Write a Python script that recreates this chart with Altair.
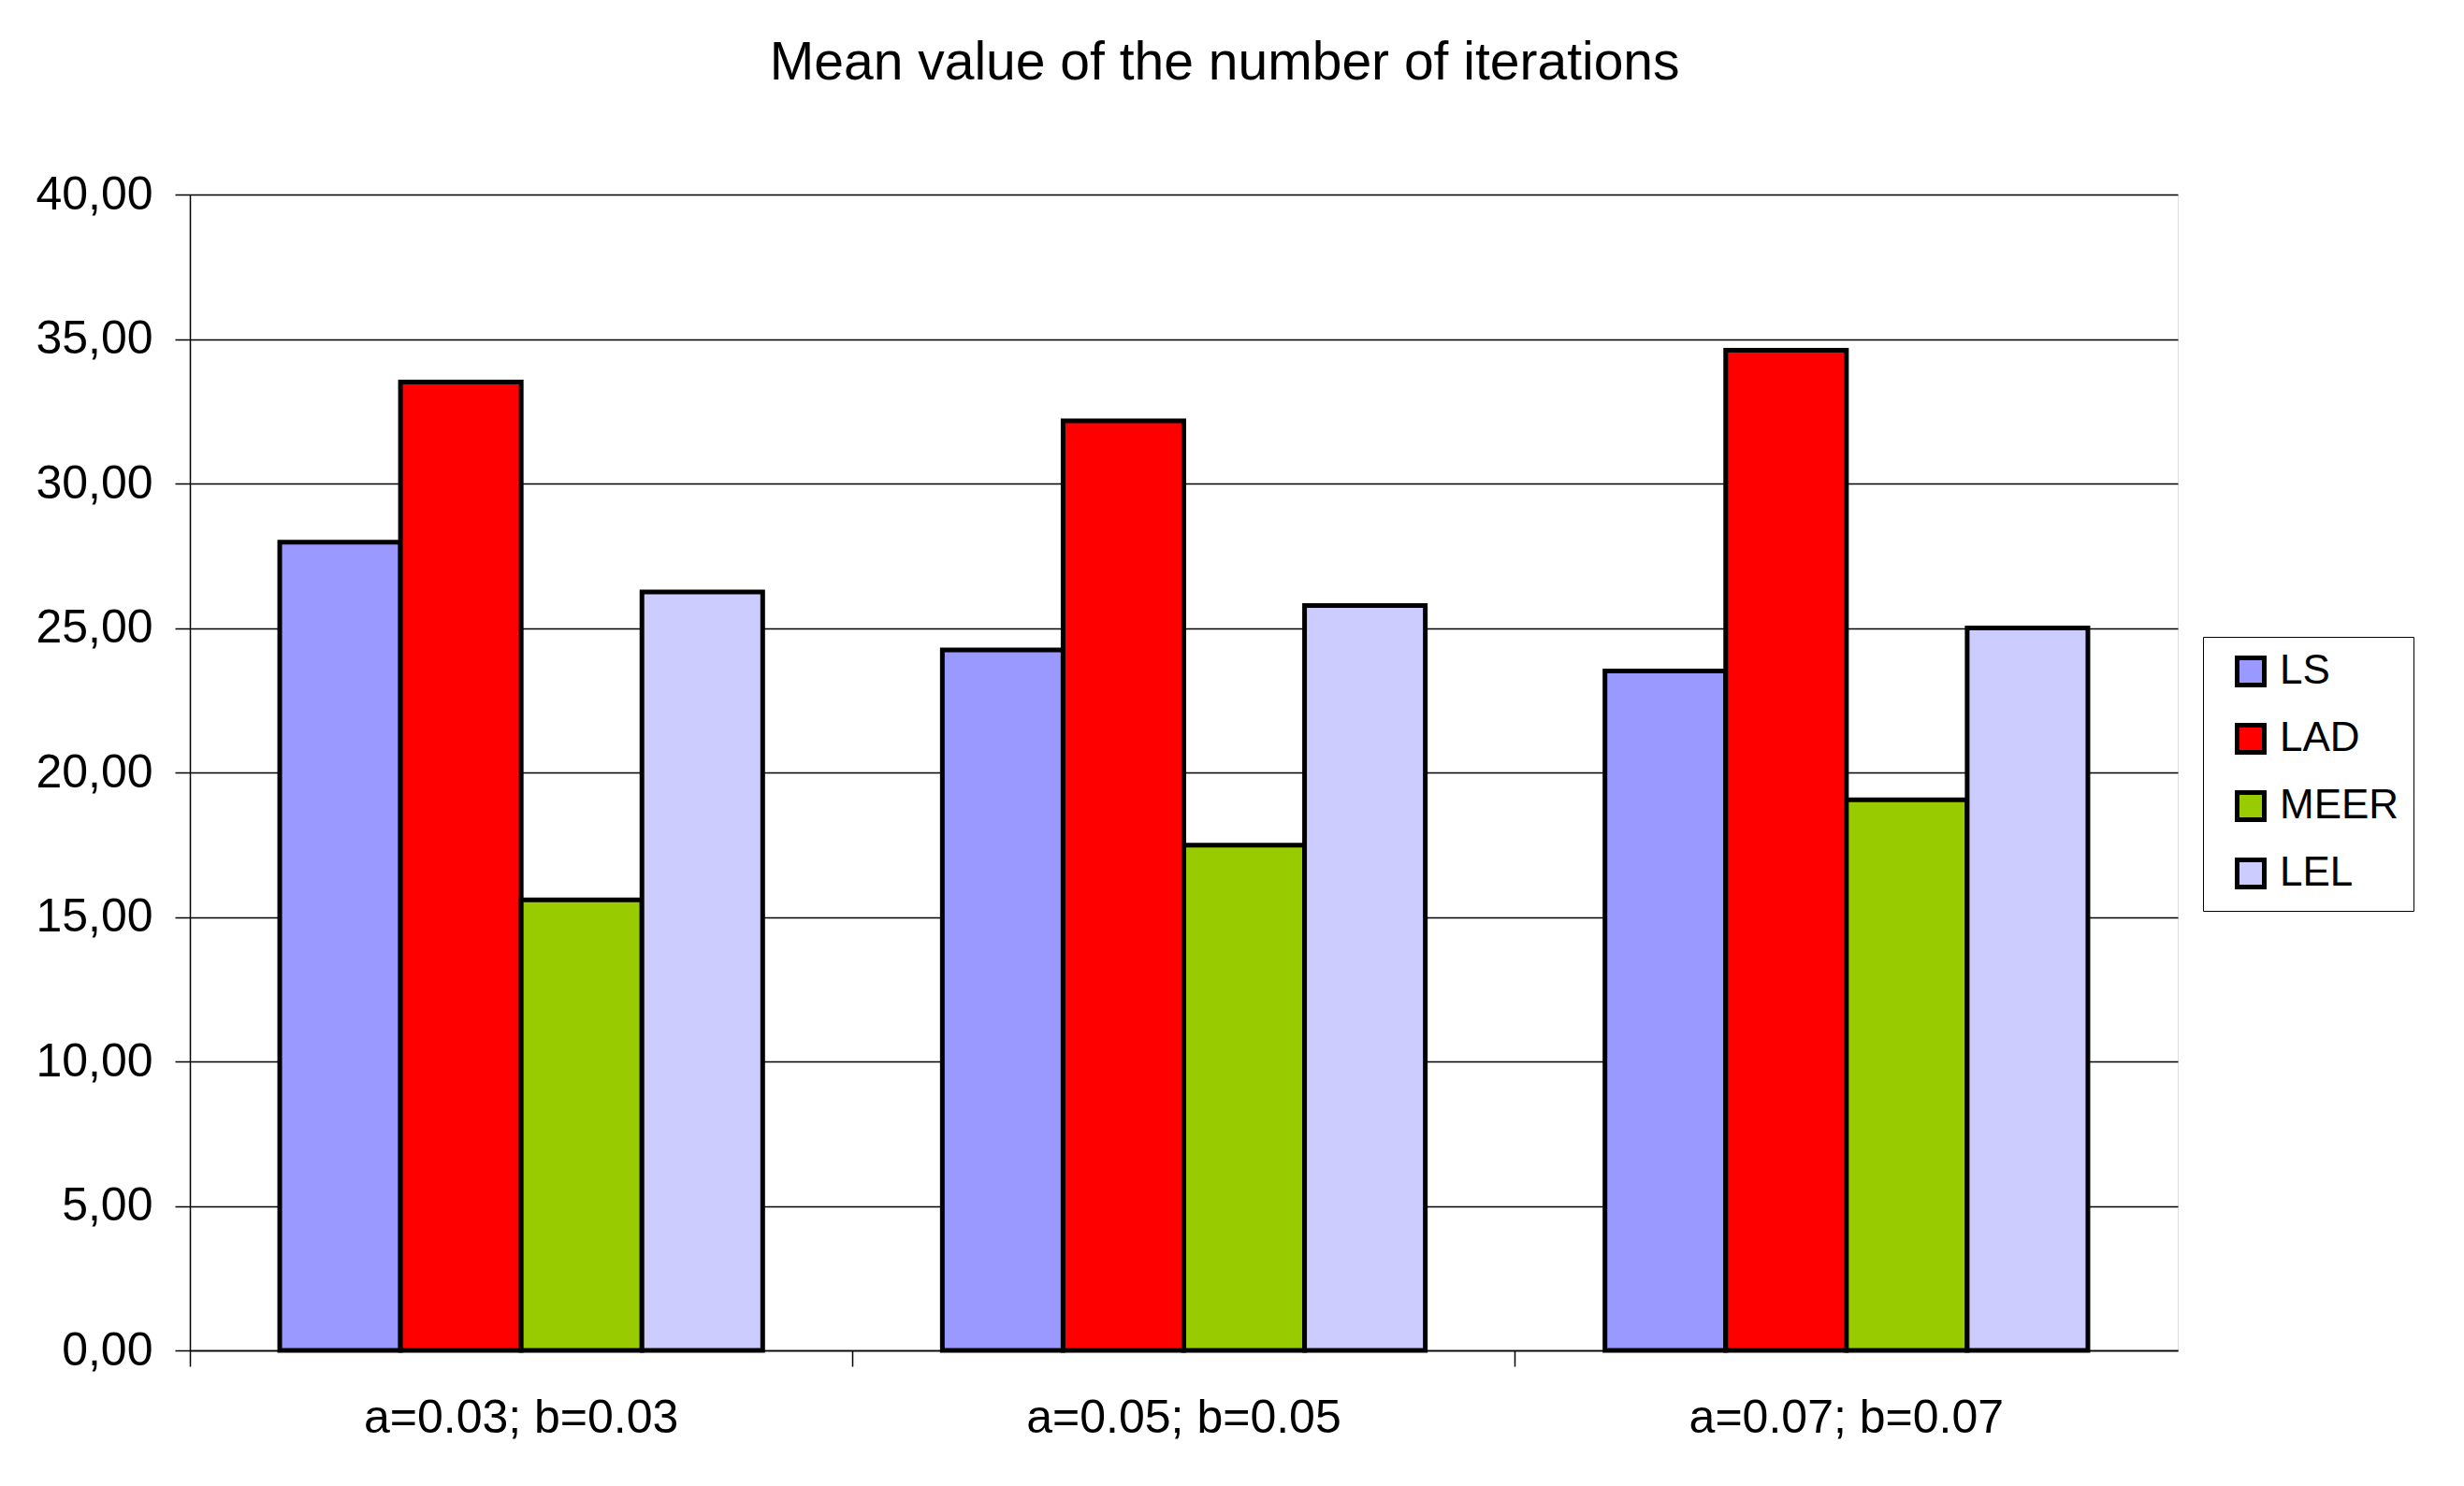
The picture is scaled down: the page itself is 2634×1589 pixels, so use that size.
import altair as alt
import pandas as pd

groups = ["a=0.03; b=0.03", "a=0.05; b=0.05", "a=0.07; b=0.07"]
series = ["LS", "LAD", "MEER", "LEL"]
ls_vals = [27.97, 24.24, 23.51]
lad_vals = [33.51, 32.17, 34.61]
meer_vals = [15.59, 17.48, 19.05]
lel_vals = [26.25, 25.78, 25.00]
colors = ["#9999FF", "#FF0000", "#99CC00", "#CCCCFF"]
y_ticks = [0, 5, 10, 15, 20, 25, 30, 35, 40]

rows = []
for s, vals in zip(series, [ls_vals, lad_vals, meer_vals, lel_vals]):
    for g, v in zip(groups, vals):
        rows.append({"group": g, "series": s, "value": v})
df = pd.DataFrame(rows)

FONT = "Liberation Sans"

chart = alt.Chart(df).mark_bar(stroke="black", strokeWidth=5).encode(
    x=alt.X(
        "group:N",
        sort=groups,
        title=None,
        scale=alt.Scale(paddingInner=0, paddingOuter=0),
        axis=alt.Axis(
            labelAngle=0,
            labelFont=FONT,
            labelFontSize=50,
            labelColor="black",
            labelPadding=30,
            labelLimit=1000,
            tickSize=17,
            tickColor="black",
            tickWidth=1.5,
            domainColor="black",
            domainWidth=1.5,
            bandPosition=0,
            grid=False,
        ),
    ),
    xOffset=alt.XOffset(
        "series:N", sort=series, scale=alt.Scale(paddingInner=0, paddingOuter=0.744)
    ),
    y=alt.Y(
        "value:Q",
        title=None,
        scale=alt.Scale(domain=[0, 40], nice=False),
        axis=alt.Axis(
            values=y_ticks,
            labelExpr="replace(format(datum.value, '.2f'), '.', ',')",
            labelFont=FONT,
            labelFontSize=50,
            labelColor="black",
            labelPadding=24,
            tickSize=16,
            tickColor="black",
            tickWidth=1.5,
            domainColor="black",
            domainWidth=1.5,
            grid=True,
            gridColor="black",
            gridWidth=1.5,
            gridOpacity=1,
        ),
    ),
    color=alt.Color(
        "series:N",
        sort=series,
        scale=alt.Scale(domain=series, range=colors),
        legend=alt.Legend(
            title=None,
            orient="none",
            legendX=2152,
            legendY=473,
            direction="vertical",
            strokeColor="black",
            fillColor="white",
            padding=15,
            symbolOffset=14,
            symbolType="square",
            symbolSize=841,
            symbolStrokeColor="black",
            symbolStrokeWidth=5,
            symbolOpacity=1,
            labelFont=FONT,
            labelFontSize=44,
            labelColor="black",
            labelOffset=9,
            labelLimit=1000,
            rowPadding=22,
        ),
    ),
).properties(
    width=2125,
    height=1236,
    title=alt.TitleParams(
        "Mean value of the number of iterations",
        font=FONT,
        fontSize=57,
        fontWeight="normal",
        color="black",
        anchor="middle",
        frame="bounds",
        baseline="alphabetic",
        offset=41,
    ),
    autosize=alt.AutoSizeParams(type="none"),
    padding={"left": 195, "top": 200, "right": 290, "bottom": 130},
).configure_view(
    stroke="black", strokeWidth=1.5
).configure(background="white")

chart.save("out.html", embed_options={"renderer": "svg", "actions": False})
